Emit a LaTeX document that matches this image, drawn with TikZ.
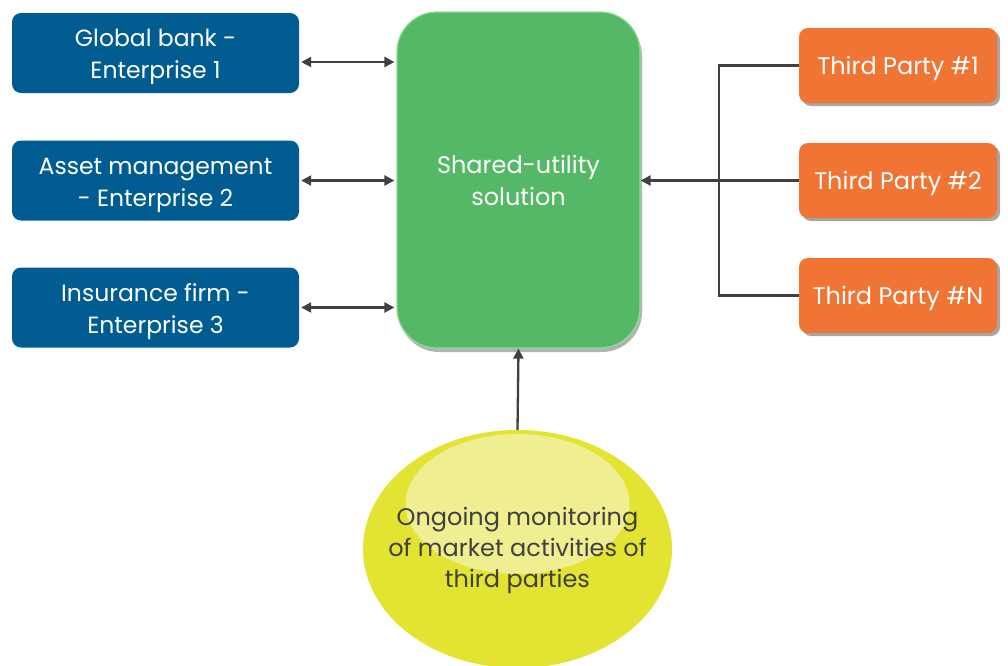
\documentclass[tikz,border=0pt]{standalone}
\usepackage{fontspec}
\setmainfont{Poppins}
\usetikzlibrary{arrows.meta,shadows,positioning,shapes.geometric}
\definecolor{entblue}{RGB}{0,92,145}
\definecolor{utilgreen}{RGB}{84,184,102}
\definecolor{utiledge}{RGB}{140,220,150}
\definecolor{tporange}{RGB}{240,117,52}
\definecolor{monyellow}{RGB}{227,227,50}
\definecolor{monhigh}{RGB}{242,242,170}
\definecolor{linegrey}{RGB}{64,64,64}
\newcommand{\dropstrut}[1]{\rule{0pt}{#1}}
\tikzset{
  entbox/.style={rectangle, rounded corners=9pt, fill=entblue, text=white, minimum width=287pt, minimum height=80pt, align=center, font=\fontsize{23.5}{32}\selectfont},
  tpbox/.style={rectangle, rounded corners=9pt, fill=tporange, text=white, minimum width=198pt, minimum height=75pt, align=center, font=\fontsize{24}{32}\selectfont, drop shadow={shadow xshift=3pt, shadow yshift=-3pt, opacity=0.35, fill=black}},
  utilbox/.style={rectangle, rounded corners=40pt, fill=utilgreen, draw=utiledge, line width=1.2pt, text=white, minimum width=243pt, minimum height=336pt, align=center, font=\fontsize{24}{32}\selectfont, drop shadow={shadow xshift=2pt, shadow yshift=-4pt, opacity=0.3, fill=black}},
  conn/.style={draw=linegrey, line width=2.3pt},
  tip/.style={-{Triangle[length=10pt,width=10pt]}},
  dtip/.style={{Triangle[length=10pt,width=10pt]}-{Triangle[length=10pt,width=10pt]}},
}
\begin{document}
\begin{tikzpicture}[x=1pt,y=-1pt]
\useasboundingbox (0,0) rectangle (1008,665);
\node[entbox] (e1) at (155.5,53) {\dropstrut{26pt}Global bank -\\Enterprise 1};
\node[entbox] (e2) at (155.5,180.5) {\dropstrut{26pt}Asset management\\- Enterprise 2};
\node[entbox] (e3) at (155.5,307.5) {\dropstrut{26pt}Insurance firm -\\Enterprise 3};
\node[utilbox] (u) at (518.5,180) {Shared-utility\\solution};
\node[tpbox] (t1) at (898,65.5) {\dropstrut{24pt}Third Party \#1};
\node[tpbox] (t2) at (898,180.5) {\dropstrut{24pt}Third Party \#2};
\node[tpbox] (tn) at (898,295.5) {\dropstrut{24pt}Third Party \#N};
% monitoring ellipse
\begin{scope}
\clip (0,0) rectangle (1008,665);
\fill[monyellow] (517.5,549) ellipse [x radius=154.5, y radius=119];
\fill[monhigh, opacity=0.8] (517.5,504) ellipse [x radius=112, y radius=70];
\end{scope}
\node[ellipse, minimum width=309pt, minimum height=238pt, inner sep=0pt] (m) at (517.5,549) {};
\node[text=linegrey, align=center, font=\fontsize{24}{31}\selectfont] (mt) at (517.5,550) {Ongoing monitoring\\of market activities of\\third parties};
% connectors
\draw[conn,dtip] ([xshift=2pt]e1.east |- 0,62) -- ([xshift=-2pt]u.west |- 0,62);
\draw[conn,dtip] ([xshift=2pt]e2.east) -- ([xshift=-2pt]u.west |- e2.east);
\draw[conn,dtip] ([xshift=2pt]e3.east) -- ([xshift=-2pt]u.west |- e3.east);
\coordinate (bus) at (719,180.5);
\draw[conn] (t1.west) -| (bus) |- (tn.west);
\draw[conn,tip] (t2.west) -- (u.east |- t2.west);
\draw[conn,tip] (m.north) -- (u.south);
\end{tikzpicture}
\end{document}
